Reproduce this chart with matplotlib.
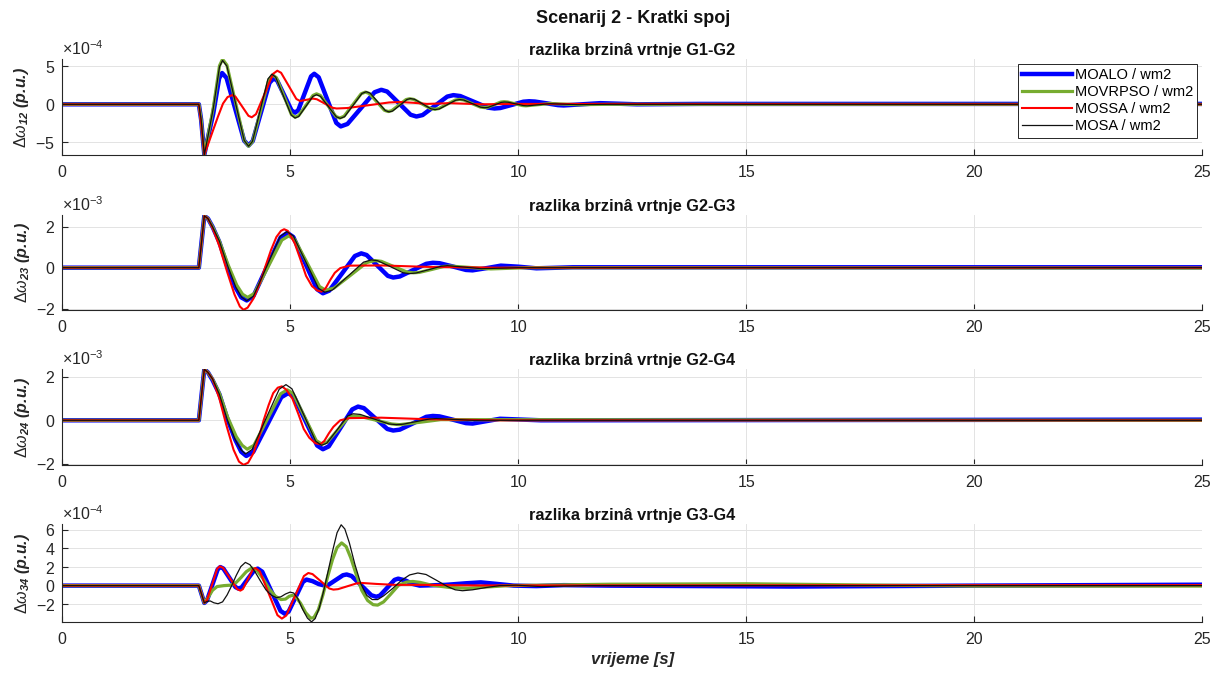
import matplotlib
matplotlib.use('Agg')
import matplotlib.pyplot as plt

plt.rcParams['font.family'] = ['Liberation Sans', 'DejaVu Sans']
plt.rcParams['mathtext.fontset'] = 'custom'
plt.rcParams['mathtext.rm'] = 'Liberation Sans'
plt.rcParams['mathtext.it'] = 'Liberation Sans:italic'
plt.rcParams['mathtext.bf'] = 'Liberation Sans:bold'
plt.rcParams['mathtext.bfit'] = 'Liberation Sans:italic:bold'
plt.rcParams['axes.unicode_minus'] = False

# ---- data (time in s, values in units of the panel scale) ----
methods = ['MOALO / wm2', 'MOVRPSO / wm2', 'MOSSA / wm2', 'MOSA / wm2']

# G1-G2, x1e-4
t12_moalo = [0, 3.0, 3.05, 3.12, 3.19, 3.315, 3.445, 3.51, 3.607, 3.80, 3.993, 4.09, 4.182, 4.365, 4.548,
             4.64, 4.718, 4.875, 5.032, 5.11, 5.18, 5.32, 5.46, 5.53, 5.627, 5.82, 6.013, 6.11, 6.258, 6.555,
             6.852, 7.0, 7.128, 7.385, 7.642, 7.77, 7.905, 8.175, 8.445, 8.58, 8.73, 9.03, 9.33, 9.48, 9.607,
             9.86, 10.113, 10.24, 10.367, 10.62, 10.873, 11.0, 11.4, 11.8, 12.6, 14.0, 25.0]
w12_moalo = [0, 0, -2.0, -6.6, -4.6, -1.25, 3.4, 4.1, 3.46, -0.65, -4.76, -5.4, -4.81, -1.0, 2.81,
             3.4, 3.1, 1.15, -0.8, -1.1, -0.76, 1.45, 3.66, 4.0, 3.54, 0.55, -2.44, -2.9, -2.58, -0.5,
             1.58, 1.9, 1.67, 0.15, -1.37, -1.6, -1.41, -0.2, 1.01, 1.2, 1.08, 0.33, -0.43, -0.55, -0.49,
             -0.08, 0.34, 0.4, 0.36, 0.13, -0.11, -0.15, 0.0, 0.15, 0.0, 0.05, 0.05]
t12_movrpso = [0, 3.0, 3.05, 3.12, 3.19, 3.32, 3.453, 3.52, 3.615, 3.805, 3.995, 4.09, 4.178, 4.355, 4.532,
               4.62, 4.702, 4.865, 5.028, 5.11, 5.188, 5.345, 5.502, 5.58, 5.665, 5.835, 6.005, 6.09, 6.183,
               6.37, 6.557, 6.65, 6.733, 6.9, 7.067, 7.15, 7.228, 7.385, 7.542, 7.62, 7.712, 7.895, 8.078,
               8.17, 8.26, 8.44, 8.62, 8.71, 8.802, 8.985, 9.168, 9.26, 9.332, 9.475, 9.618, 9.69, 9.77,
               9.93, 10.09, 10.17, 10.435, 10.7, 11.3, 12.0, 25.0]
w12_movrpso = [0, 0, -2.0, -6.6, -4.5, -0.35, 5.06, 5.9, 5.14, 0.2, -4.74, -5.5, -4.87, -0.83, 3.22,
               3.85, 3.48, 1.08, -1.33, -1.7, -1.49, -0.17, 1.16, 1.37, 1.16, -0.22, -1.59, -1.8, -1.57,
               -0.1, 1.37, 1.6, 1.43, 0.33, -0.78, -0.95, -0.84, -0.11, 0.62, 0.73, 0.64, 0.04, -0.56,
               -0.65, -0.56, 0.0, 0.55, 0.64, 0.57, 0.1, -0.36, -0.43, -0.38, -0.05, 0.29, 0.34, 0.3,
               0.07, -0.16, -0.2, -0.05, 0.1, -0.05, 0.0, 0.0]
t12_mossa = [0, 3.0, 3.05, 3.12, 3.2, 3.3, 3.42, 3.53, 3.63, 3.73, 3.802, 3.945, 4.088, 4.16, 4.253, 4.44,
             4.627, 4.72, 4.803, 4.97, 5.137, 5.22, 5.36, 5.5, 5.587, 5.76, 5.933, 6.02, 6.25, 6.71, 7.17,
             7.4, 7.7, 8.0, 8.5, 9.2, 10.0, 25.0]
w12_mossa = [0, 0, -2.5, -6.6, -5.3, -3.6, -1.6, 0.1, 0.95, 1.2, 1.01, -0.25, -1.51, -1.7, -1.29, 1.35,
             3.99, 4.4, 4.13, 2.42, 0.7, 0.43, 0.59, 0.75, 0.66, 0.1, -0.46, -0.55, -0.49, -0.13, 0.24,
             0.3, 0.2, 0.05, 0.15, 0.0, 0.05, 0.0]
t12_mosa = [0, 3.0, 3.05, 3.12, 3.19, 3.32, 3.453, 3.52, 3.615, 3.805, 3.995, 4.09, 4.175, 4.345, 4.515,
            4.6, 4.685, 4.855, 5.025, 5.11, 5.188, 5.345, 5.502, 5.58, 5.667, 5.84, 6.013, 6.1, 6.195,
            6.385, 6.575, 6.67, 6.753, 6.92, 7.087, 7.17, 7.248, 7.405, 7.562, 7.64, 7.73, 7.91, 8.09,
            8.18, 8.27, 8.45, 8.63, 8.72, 8.812, 8.995, 9.178, 9.27, 9.342, 9.485, 9.628, 9.7, 9.783,
            9.95, 10.117, 10.2, 10.45, 10.7, 11.3, 12.0, 25.0]
w12_mosa = [0, 0, -2.0, -6.6, -4.5, -0.42, 4.92, 5.75, 5.0, 0.13, -4.75, -5.5, -4.87, -0.78, 3.32,
            3.95, 3.56, 1.08, -1.41, -1.8, -1.6, -0.28, 1.05, 1.25, 1.04, -0.3, -1.64, -1.85, -1.62,
            -0.1, 1.42, 1.65, 1.47, 0.33, -0.82, -1.0, -0.88, -0.13, 0.63, 0.75, 0.65, 0.03, -0.6,
            -0.7, -0.61, -0.04, 0.53, 0.62, 0.55, 0.09, -0.38, -0.45, -0.4, -0.08, 0.25, 0.3, 0.27,
            0.05, -0.17, -0.2, -0.06, 0.08, -0.05, 0.0, 0.0]

# G2-G3, x1e-3
t23_moalo = [0, 3.0, 3.12, 3.2, 3.3, 3.45, 3.62, 3.8, 3.93, 4.05, 4.198, 4.495, 4.792, 4.94, 5.07, 5.33,
             5.59, 5.72, 5.86, 6.14, 6.42, 6.56, 6.677, 6.91, 7.143, 7.26, 7.405, 7.695, 7.985, 8.13,
             8.275, 8.565, 8.855, 9.0, 9.31, 9.62, 10.0, 10.4, 11.2, 25.0]
w23_moalo = [0, 0, 2.53, 2.4, 2.0, 1.25, 0.1, -0.95, -1.45, -1.6, -1.38, 0.05, 1.48, 1.7, 1.5, 0.23,
             -1.05, -1.25, -1.12, -0.28, 0.57, 0.7, 0.62, 0.11, -0.4, -0.48, -0.43, -0.12, 0.19, 0.24,
             0.22, 0.06, -0.11, -0.13, -0.02, 0.1, 0.05, -0.03, 0.02, 0.02]
t23_movrpso = [0, 3.0, 3.12, 3.2, 3.3, 3.45, 3.64, 3.83, 3.96, 4.07, 4.22, 4.52, 4.82, 4.97, 5.105, 5.375,
               5.645, 5.78, 5.96, 6.32, 6.68, 6.86, 7.0, 7.28, 7.56, 7.7, 7.833, 8.1, 8.367, 8.5, 8.95,
               9.4, 10.2, 25.0]
w23_movrpso = [0, 0, 2.53, 2.4, 2.0, 1.3, 0.15, -0.85, -1.3, -1.45, -1.25, 0.05, 1.35, 1.55, 1.37, 0.23,
               -0.92, -1.1, -1.0, -0.38, 0.25, 0.35, 0.31, 0.05, -0.21, -0.25, -0.23, -0.09, 0.06, 0.08,
               0.01, -0.06, 0.0, -0.02]
t23_mossa = [0, 3.0, 3.12, 3.2, 3.3, 3.45, 3.62, 3.78, 3.9, 3.98, 4.07, 4.2, 4.33, 4.45, 4.58, 4.7, 4.8,
             4.87, 4.95, 5.1, 5.22, 5.35, 5.48, 5.6, 5.69, 5.78, 5.88, 5.98, 6.1, 6.3, 7.0, 8.0, 9.5, 25.0]
w23_mossa = [0, 0, 2.53, 2.4, 1.95, 1.05, -0.2, -1.3, -1.9, -2.06, -1.95, -1.5, -0.8, 0.0, 0.85, 1.5, 1.8,
             1.88, 1.8, 1.2, 0.45, -0.4, -0.9, -1.12, -1.17, -1.0, -0.6, -0.25, -0.02, 0.1, 0.11, 0.04,
             0.0, 0.0]
t23_mosa = [0, 3.0, 3.12, 3.2, 3.3, 3.45, 3.63, 3.81, 3.94, 4.05, 4.197, 4.49, 4.783, 4.93, 5.068, 5.345,
            5.622, 5.76, 5.93, 6.27, 6.61, 6.78, 6.92, 7.2, 7.48, 7.62, 7.76, 8.035, 8.31, 8.45, 8.82,
            9.2, 10.0, 25.0]
w23_mosa = [0, 0, 2.53, 2.4, 2.0, 1.3, 0.1, -0.95, -1.45, -1.62, -1.39, 0.07, 1.53, 1.76, 1.56, 0.28,
            -1.0, -1.2, -1.09, -0.41, 0.27, 0.38, 0.34, 0.05, -0.25, -0.29, -0.26, -0.1, 0.07, 0.1, 0.03,
            -0.05, 0.0, 0.0]

# G2-G4, x1e-3
t24_moalo = [0, 3.0, 3.12, 3.2, 3.3, 3.45, 3.62, 3.8, 3.93, 4.04, 4.193, 4.5, 4.807, 4.96, 5.087, 5.34,
             5.593, 5.72, 5.848, 6.105, 6.362, 6.49, 6.618, 6.875, 7.132, 7.26, 7.405, 7.695, 7.985, 8.13,
             8.275, 8.565, 8.855, 9.0, 9.3, 9.6, 10.5, 25.0]
w24_moalo = [0, 0, 2.35, 2.2, 1.85, 1.2, 0.1, -0.9, -1.45, -1.64, -1.45, -0.2, 1.06, 1.25, 1.08, -0.04,
             -1.16, -1.33, -1.2, -0.35, 0.5, 0.63, 0.56, 0.08, -0.4, -0.47, -0.43, -0.14, 0.16, 0.2,
             0.18, 0.03, -0.13, -0.15, -0.04, 0.07, 0.0, 0.03]
t24_movrpso = [0, 3.0, 3.12, 3.2, 3.3, 3.45, 3.63, 3.82, 3.95, 4.06, 4.207, 4.5, 4.793, 4.94, 5.067, 5.32,
               5.573, 5.7, 5.813, 6.04, 6.267, 6.38, 6.55, 6.89, 7.23, 7.4, 7.85, 8.3, 25.0]
w24_movrpso = [0, 0, 2.35, 2.2, 1.9, 1.25, 0.15, -0.75, -1.15, -1.33, -1.15, 0.04, 1.22, 1.4, 1.23, 0.15,
               -0.93, -1.1, -1.01, -0.45, 0.11, 0.2, 0.17, 0.0, -0.17, -0.2, -0.09, 0.03, 0.0]
t24_mossa = [0, 3.0, 3.12, 3.2, 3.3, 3.45, 3.6, 3.76, 3.88, 3.98, 4.08, 4.2, 4.32, 4.42, 4.53, 4.63, 4.73,
             4.82, 4.92, 5.05, 5.18, 5.3, 5.42, 5.55, 5.66, 5.75, 5.85, 5.95, 6.1, 6.3, 7.0, 8.0, 9.5, 25.0]
w24_mossa = [0, 0, 2.35, 2.2, 1.9, 1.0, -0.2, -1.35, -1.9, -2.05, -1.95, -1.5, -0.75, 0.0, 0.7, 1.25, 1.5,
             1.56, 1.4, 1.0, 0.3, -0.4, -0.8, -1.05, -1.1, -0.95, -0.6, -0.3, 0.0, 0.1, 0.12, 0.05, 0.0, 0.0]
t24_mosa = [0, 3.0, 3.12, 3.2, 3.3, 3.45, 3.62, 3.8, 3.92, 4.02, 4.168, 4.465, 4.762, 4.91, 5.04, 5.3,
            5.56, 5.69, 5.805, 6.035, 6.265, 6.38, 6.538, 6.855, 7.172, 7.33, 7.475, 7.765, 8.055, 8.2,
            9.0, 25.0]
w24_mosa = [0, 0, 2.35, 2.2, 1.9, 1.2, 0.05, -0.9, -1.35, -1.55, -1.34, 0.05, 1.43, 1.64, 1.45, 0.25,
            -0.96, -1.15, -1.05, -0.43, 0.2, 0.3, 0.27, 0.05, -0.17, -0.2, -0.18, -0.06, 0.06, 0.08,
            0.0, 0.0]

# G3-G4, x1e-4
t34_moalo = [0, 3.0, 3.12, 3.178, 3.295, 3.412, 3.47, 3.537, 3.67, 3.803, 3.87, 3.94, 4.08, 4.22, 4.29,
             4.39, 4.59, 4.79, 4.89, 4.968, 5.125, 5.282, 5.36, 5.493, 5.627, 5.76, 5.84, 6.0, 6.16, 6.24,
             6.348, 6.565, 6.782, 6.89, 6.97, 7.13, 7.29, 7.37, 7.527, 7.683, 7.84, 8.4, 8.85, 9.18, 9.5,
             9.9, 10.4, 11.0, 12.0, 16.0, 20.0, 25.0]
w34_moalo = [0, 0, -1.86, -1.6, 0.07, 1.74, 2.0, 1.84, 0.84, -0.16, -0.32, -0.18, 0.76, 1.69, 1.83,
             1.5, -0.61, -2.72, -3.05, -2.8, -1.2, 0.4, 0.65, 0.48, 0.17, 0.0, 0.08, 0.6, 1.12, 1.2,
             1.04, 0.0, -1.04, -1.2, -1.07, -0.23, 0.62, 0.75, 0.56, 0.19, 0.0, 0.08, 0.25, 0.35, 0.2,
             0.0, -0.05, 0.05, 0.0, -0.1, 0.0, 0.1]
t34_movrpso = [0, 3.0, 3.12, 3.2, 3.3, 3.4, 3.55, 3.7, 3.82, 3.93, 4.04, 4.16, 4.27, 4.4, 4.55, 4.68, 4.8,
               4.9, 4.98, 5.05, 5.13, 5.23, 5.34, 5.45, 5.52, 5.62, 5.72, 5.82, 5.93, 6.03, 6.13, 6.23,
               6.33, 6.45, 6.57, 6.7, 6.82, 6.92, 7.05, 7.2, 7.38, 7.55, 7.69, 7.85, 8.1, 8.5, 8.9, 9.3,
               9.8, 10.5, 12.0, 15.0, 18.0, 20.0, 25.0]
w34_movrpso = [0, 0, -1.86, -1.3, -0.5, -0.1, 0.0, 0.05, 0.35, 0.9, 1.5, 1.9, 1.65, 0.8, -0.4, -1.15, -1.5,
               -1.45, -1.15, -1.05, -1.25, -1.9, -2.9, -3.5, -3.45, -2.6, -1.0, 0.9, 2.8, 4.1, 4.6, 4.2,
               3.0, 1.2, -0.5, -1.6, -2.05, -2.1, -1.75, -0.95, 0.05, 0.38, 0.45, 0.35, 0.05, -0.2, -0.3,
               -0.15, 0.0, 0.05, 0.15, 0.2, 0.05, -0.05, -0.05]
t34_mossa = [0, 3.0, 3.12, 3.177, 3.29, 3.403, 3.46, 3.535, 3.685, 3.835, 3.91, 3.965, 4.075, 4.185, 4.24,
             4.337, 4.53, 4.723, 4.82, 4.917, 5.11, 5.303, 5.4, 5.492, 5.675, 5.858, 5.95, 6.052, 6.255,
             6.458, 6.56, 6.9, 7.3, 8.0, 9.0, 25.0]
w34_mossa = [0, 0, -1.86, -1.6, 0.11, 1.82, 2.08, 1.9, 0.77, -0.36, -0.54, -0.38, 0.68, 1.74, 1.9,
             1.53, -0.83, -3.18, -3.55, -3.22, -1.1, 1.03, 1.36, 1.24, 0.47, -0.31, -0.43, -0.38, -0.07,
             0.24, 0.29, 0.18, 0.08, 0.08, 0.02, 0.05]
t34_mosa = [0, 3.0, 3.12, 3.18, 3.25, 3.33, 3.42, 3.52, 3.62, 3.72, 3.82, 3.92, 4.02, 4.12, 4.23, 4.35,
            4.47, 4.58, 4.7, 4.8, 4.9, 5.0, 5.08, 5.17, 5.27, 5.38, 5.47, 5.55, 5.64, 5.74, 5.84, 5.94,
            6.03, 6.12, 6.2, 6.3, 6.42, 6.55, 6.68, 6.8, 6.92, 7.05, 7.25, 7.45, 7.62, 7.8, 7.98, 8.2,
            8.45, 8.62, 8.78, 9.0, 9.3, 9.6, 9.95, 10.5, 11.5, 25.0]
w34_mosa = [0, 0, -1.86, -1.7, -1.65, -1.85, -1.95, -1.75, -1.0, 0.0, 1.1, 2.05, 2.5, 2.25, 1.5, 0.5,
            -0.45, -1.0, -1.3, -1.2, -0.9, -0.7, -0.8, -1.4, -2.5, -3.5, -3.9, -3.55, -2.4, -0.5, 1.7,
            3.9, 5.7, 6.55, 6.1, 4.6, 2.3, 0.2, -1.05, -1.5, -1.5, -1.1, -0.3, 0.6, 1.15, 1.36, 1.2, 0.6,
            -0.1, -0.45, -0.55, -0.45, -0.2, 0.0, 0.05, -0.1, 0.0, 0.0]

titles = ['razlika brzinâ vrtnje G1-G2', 'razlika brzinâ vrtnje G2-G3',
          'razlika brzinâ vrtnje G2-G4', 'razlika brzinâ vrtnje G3-G4']
subs = ['12', '23', '24', '34']
scales = [1e-4, 1e-3, 1e-3, 1e-4]
ylims = [(-6.65, 5.95), (-2.07, 2.56), (-2.06, 2.36), (-3.92, 6.65)]
yticks = [[-5, 0, 5], [-2, 0, 2], [-2, 0, 2], [-2, 0, 2, 4, 6]]

series = [
    [(t12_moalo, w12_moalo), (t12_movrpso, w12_movrpso), (t12_mossa, w12_mossa), (t12_mosa, w12_mosa)],
    [(t23_moalo, w23_moalo), (t23_movrpso, w23_movrpso), (t23_mossa, w23_mossa), (t23_mosa, w23_mosa)],
    [(t24_moalo, w24_moalo), (t24_movrpso, w24_movrpso), (t24_mossa, w24_mossa), (t24_mosa, w24_mosa)],
    [(t34_moalo, w34_moalo), (t34_movrpso, w34_movrpso), (t34_mossa, w34_mossa), (t34_mosa, w34_mosa)],
]

colors = ['#0000ff', '#77ac30', '#ff0000', '#111111']
widths = [3.2, 2.3, 1.5, 0.9]
axc = '#262626'

fig = plt.figure(figsize=(12.25, 6.77), dpi=100)
boxes = [(0.0506, 0.771, 0.931, 0.142), (0.0506, 0.542, 0.931, 0.140),
         (0.0506, 0.313, 0.931, 0.142), (0.0506, 0.0812, 0.931, 0.145)]

for i in range(4):
    ax = fig.add_axes(boxes[i])
    sc = scales[i]
    for (t, w), c, lw, lab in zip(series[i], colors, widths, methods):
        ax.plot(t, [v * sc for v in w], color=c, lw=lw, label=lab, solid_joinstyle='round')
    ax.set_xlim(0, 25)
    ax.set_ylim(ylims[i][0] * sc, ylims[i][1] * sc)
    ax.set_xticks([0, 5, 10, 15, 20, 25])
    ax.set_yticks([v * sc for v in yticks[i]])
    ax.ticklabel_format(axis='y', style='sci', scilimits=(0, 0), useMathText=True)
    ax.yaxis.get_offset_text().set_color('#707070')
    ax.yaxis.get_offset_text().set_fontsize(11.5)
    ax.grid(True, color='#e3e3e3', lw=0.7)
    ax.set_axisbelow(True)
    for s in ['top', 'right']:
        ax.spines[s].set_visible(False)
    for s in ['left', 'bottom']:
        ax.spines[s].set_color(axc)
        ax.spines[s].set_linewidth(0.8)
    ax.tick_params(direction='in', length=4, width=0.8, colors=axc, labelsize=11.5)
    ax.tick_params(axis='x', pad=7)
    ax.tick_params(axis='y', pad=5)
    ax.set_title(titles[i], fontsize=11.8, fontweight='bold', color='#111111', pad=3)
    ax.set_ylabel(r'$\Delta\omega_{\mathbfit{' + subs[i] + r'}}$ (p.u.)', fontsize=11.5,
                  fontweight='bold', style='italic', color=axc, labelpad=3)
    if i == 0:
        leg = ax.legend(loc='upper right', fontsize=10.5, frameon=True, fancybox=False, framealpha=1,
                        edgecolor='#262626', handlelength=3.4, handletextpad=0.2, labelspacing=0.2,
                        borderpad=0.3, borderaxespad=0.35)
        leg.get_frame().set_linewidth(0.7)
    if i == 3:
        ax.set_xlabel('vrijeme [s]', fontsize=12, fontweight='bold', style='italic', color=axc,
                      labelpad=4)

fig.suptitle('Scenarij 2 - Kratki spoj', fontsize=13, fontweight='bold', color='#111111',
             x=0.5165, y=0.985)

fig.savefig('out.png', dpi=100)
